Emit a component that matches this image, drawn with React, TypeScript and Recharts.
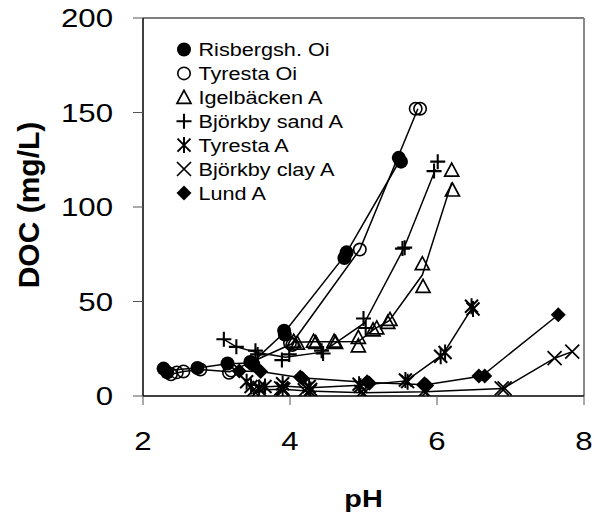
import React from "react"
import { ComposedChart, Scatter, XAxis, YAxis, ReferenceLine } from "recharts"

type Pt = [number, number]

// axis ticks
const phTicks = [2, 4, 6, 8]
const docTicks = [0, 50, 100, 150, 200]

// measured points [pH, DOC mg/L], both replicates
const risbergshOiPts: Pt[] = [[2.28, 14.5], [2.33, 12.5], [2.74, 14.8], [3.15, 17.2], [3.46, 18], [3.5, 16.8], [3.92, 34.5], [3.93, 32.5], [4.74, 73], [4.77, 76], [5.48, 126], [5.51, 124]]
const tyrestaOiPts: Pt[] = [[2.38, 11.5], [2.46, 12.5], [2.55, 13], [2.78, 14], [3.17, 12.3], [3.2, 13.5], [4.0, 28], [4.03, 27], [4.95, 77.5], [5.71, 152], [5.77, 152]]
const igelbackenPts: Pt[] = [[4.05, 29], [4.1, 28], [4.32, 29], [4.35, 28.3], [4.6, 29], [4.62, 28.3], [4.93, 31], [4.93, 26.5], [5.13, 35], [5.18, 36], [5.33, 39], [5.36, 40.5], [5.8, 70], [5.81, 58], [6.2, 119.5], [6.21, 109]]
const bjorkbySandPts: Pt[] = [[3.1, 30], [3.27, 26], [3.53, 24], [3.56, 22], [3.89, 19], [3.99, 22], [4.43, 24], [4.45, 22.5], [5.0, 41], [5.03, 36], [5.53, 78], [5.56, 78.5], [5.96, 119], [6.01, 124]]
const tyrestaAPts: Pt[] = [[3.41, 7.5], [3.47, 5], [3.58, 4.5], [3.66, 5], [3.9, 6.5], [3.9, 4], [4.26, 5], [4.28, 3.5], [4.94, 6.2], [4.96, 5.2], [5.57, 8.5], [5.6, 7.6], [6.05, 21], [6.11, 23], [6.47, 47.5], [6.49, 46]]
const bjorkbyClayPts: Pt[] = [[3.5, 3], [3.58, 3.5], [3.88, 4], [3.91, 3.3], [4.2, 3], [4.27, 2.4], [4.97, 2], [5.0, 1.4], [5.82, 2.5], [5.85, 2], [6.88, 4], [6.92, 4], [7.6, 20], [7.84, 23.5]]
const lundAPts: Pt[] = [[3.31, 13.2], [3.6, 12.9], [4.14, 10], [4.17, 9.3], [5.05, 7.5], [5.08, 6.8], [5.83, 6.5], [5.86, 5.5], [6.57, 10.6], [6.65, 10.6], [7.65, 43]]

// drawn curves (through the replicate pairs)
const risbergshOiLine: Pt[] = [[2.3, 13.5], [2.74, 14.8], [3.15, 17], [3.48, 17.5], [3.92, 33.5], [4.75, 74.5], [5.5, 125]]
const tyrestaOiLine: Pt[] = [[2.38, 11.5], [2.55, 13], [2.78, 14], [3.18, 12.8], [4.02, 27.5], [4.95, 77.5], [5.74, 152]]
const igelbackenLine: Pt[] = [[4.07, 28.5], [4.33, 28.7], [4.61, 28.7], [4.93, 28.8], [5.15, 35.5], [5.35, 39.8], [5.8, 64], [6.2, 113]]
const bjorkbySandLine: Pt[] = [[3.1, 30], [3.27, 26], [3.55, 23], [3.94, 20.5], [4.44, 23.2], [5.01, 38.5], [5.55, 78.2], [5.98, 120]]
const tyrestaALine: Pt[] = [[3.44, 6.3], [3.62, 4.8], [3.9, 5.3], [4.27, 4.3], [4.95, 5.7], [5.58, 8], [6.08, 22], [6.48, 46.8]]
const bjorkbyClayLine: Pt[] = [[3.54, 3.2], [3.9, 3.6], [4.24, 2.7], [4.99, 1.7], [5.84, 2.2], [6.9, 4], [7.6, 20], [7.84, 23.5]]
const lundALine: Pt[] = [[3.31, 13.2], [3.6, 12.9], [4.15, 9.7], [5.07, 7.2], [5.85, 6], [6.61, 10.6], [7.65, 43]]

const FONT = "'Liberation Sans', Arial, sans-serif"
const toXY = (pts: Pt[]) => pts.map(([x, y]) => ({ x, y }))

type MarkerKind = "dot" | "circle" | "triangle" | "plus" | "star" | "cross" | "diamond"

function Marker({ kind, cx, cy }: { kind: MarkerKind; cx: number; cy: number }) {
  const s = "#000"
  switch (kind) {
    case "dot":
      return <circle cx={cx} cy={cy} r={7} fill={s} />
    case "circle":
      return <circle cx={cx} cy={cy} r={6.2} fill="none" stroke={s} strokeWidth={1.6} />
    case "triangle":
      return (
        <path
          d={`M${cx},${cy - 7}L${cx + 7},${cy + 6}L${cx - 7},${cy + 6}Z`}
          fill="none"
          stroke={s}
          strokeWidth={1.7}
        />
      )
    case "plus":
      return <path d={`M${cx - 7.5},${cy}H${cx + 7.5}M${cx},${cy - 7.5}V${cy + 7.5}`} stroke={s} strokeWidth={2.1} />
    case "star":
      return (
        <path
          d={`M${cx - 6.5},${cy - 6.5}L${cx + 6.5},${cy + 6.5}M${cx + 6.5},${cy - 6.5}L${cx - 6.5},${cy + 6.5}M${cx},${cy - 8}V${cy + 8}`}
          stroke={s}
          strokeWidth={2}
        />
      )
    case "cross":
      return (
        <path d={`M${cx - 7},${cy - 7}L${cx + 7},${cy + 7}M${cx + 7},${cy - 7}L${cx - 7},${cy + 7}`} stroke={s} strokeWidth={1.7} />
      )
    case "diamond":
      return <path d={`M${cx},${cy - 7.5}L${cx + 7.5},${cy}L${cx},${cy + 7.5}L${cx - 7.5},${cy}Z`} fill={s} />
  }
}

const series: { name: string; kind: MarkerKind; pts: Pt[]; line: Pt[] }[] = [
  { name: "Risbergsh. Oi", kind: "dot", pts: risbergshOiPts, line: risbergshOiLine },
  { name: "Tyresta Oi", kind: "circle", pts: tyrestaOiPts, line: tyrestaOiLine },
  { name: "Igelbäcken A", kind: "triangle", pts: igelbackenPts, line: igelbackenLine },
  { name: "Björkby sand A", kind: "plus", pts: bjorkbySandPts, line: bjorkbySandLine },
  { name: "Tyresta A", kind: "star", pts: tyrestaAPts, line: tyrestaALine },
  { name: "Björkby clay A", kind: "cross", pts: bjorkbyClayPts, line: bjorkbyClayLine },
  { name: "Lund A", kind: "diamond", pts: lundAPts, line: lundALine },
]

const XTick = (props: any) => {
  const { x, y, payload } = props
  return (
    <g transform={`translate(${x},${y})`}>
      <text transform="scale(1.2,1)" textAnchor="middle" dy="0.72em" fontSize={26} fontFamily={FONT} fill="#000">
        {payload.value}
      </text>
    </g>
  )
}

const YTick = (props: any) => {
  const { x, y, payload } = props
  return (
    <g transform={`translate(${x},${y})`}>
      <text transform="scale(1.2,1)" textAnchor="end" dy="0.36em" fontSize={26} fontFamily={FONT} fill="#000">
        {payload.value}
      </text>
    </g>
  )
}

function ChartLegend() {
  return (
    <svg width={594} height={519} style={{ position: "absolute", left: 0, top: 0, pointerEvents: "none" }}>
      {series.map((s, i) => {
        const cy = 49.5 + i * 23.9
        return (
          <g key={s.name}>
            <Marker kind={s.kind} cx={184} cy={cy} />
            <text
              transform={`translate(198.5,${cy}) scale(1.17,1)`}
              dy="0.36em"
              fontSize={18.5}
              fontFamily={FONT}
              fill="#000"
            >
              {s.name}
            </text>
          </g>
        )
      })}
    </svg>
  )
}

export default function App() {
  return (
    <div style={{ position: "absolute", left: 0, top: 0, width: 594, height: 519, background: "#fff" }}>
      <ComposedChart width={594} height={519} margin={{ top: 18, right: 10, bottom: 63, left: 0 }}>
        <XAxis
          type="number"
          dataKey="x"
          domain={[2, 8]}
          ticks={phTicks}
          allowDataOverflow
          height={60}
          tickSize={9}
          tickMargin={26}
          tick={XTick}
          axisLine={{ stroke: "#000", strokeWidth: 1.5 }}
          tickLine={{ stroke: "#555", strokeWidth: 1 }}
          label={{
            content: (p: any) => {
              const vb = p.viewBox
              return (
                <text
                  transform={`translate(${vb.x + vb.width / 2},${vb.y + 111}) scale(1.2,1)`}
                  textAnchor="middle"
                  fontSize={24}
                  fontWeight="bold"
                  fontFamily={FONT}
                  fill="#000"
                >
                  pH
                </text>
              )
            },
          }}
        />
        <YAxis
          type="number"
          dataKey="y"
          domain={[0, 200]}
          ticks={docTicks}
          allowDataOverflow
          width={143}
          tickSize={10}
          tickMargin={20}
          tick={YTick}
          axisLine={{ stroke: "#000", strokeWidth: 1.5 }}
          tickLine={{ stroke: "#555", strokeWidth: 1 }}
          label={{
            content: (p: any) => {
              const vb = p.viewBox
              return (
                <text
                  transform={`translate(28,${vb.y + vb.height / 2 - 2}) rotate(-90)`}
                  textAnchor="middle"
                  dominantBaseline="central"
                  fontSize={30}
                  fontWeight="bold"
                  fontFamily={FONT}
                  fill="#000"
                >
                  DOC (mg/L)
                </text>
              )
            },
          }}
        />
        <ReferenceLine y={200} stroke="#000" strokeWidth={1.2} />
        <ReferenceLine x={8} stroke="#888" strokeWidth={2} />
        {series.map((s) => (
          <Scatter
            key={s.name + "-line"}
            data={toXY(s.line)}
            line={{ stroke: "#000", strokeWidth: 1.5 }}
            lineType="joint"
            lineJointType="linear"
            shape={() => <g />}
            isAnimationActive={false}
          />
        ))}
        {series.map((s) => (
          <Scatter
            key={s.name}
            name={s.name}
            data={toXY(s.pts)}
            shape={(p: any) => <Marker kind={s.kind} cx={p.cx} cy={p.cy} />}
            isAnimationActive={false}
          />
        ))}
      </ComposedChart>
      <ChartLegend />
    </div>
  )
}
